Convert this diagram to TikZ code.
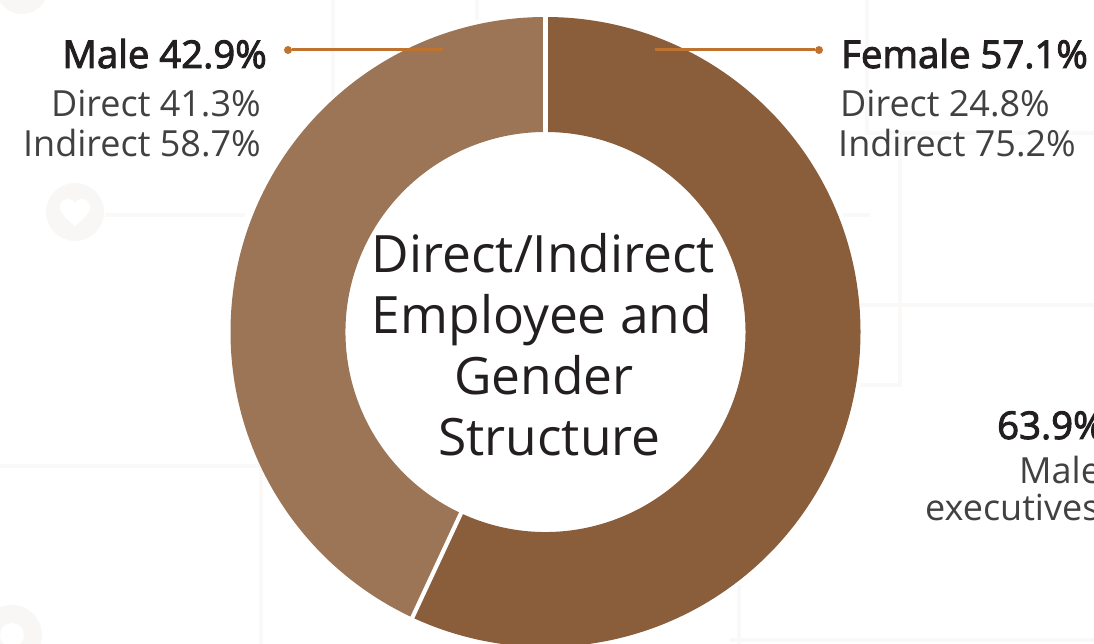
\documentclass[tikz,border=0pt]{standalone}
\usepackage{fontspec}
\usetikzlibrary{calc}
\setmainfont{Open Sans}
\newfontfamily\semib{Open Sans}[FakeBold=2.6]
\definecolor{malec}{HTML}{9C7556}
\definecolor{femalec}{HTML}{8A5D3B}
\definecolor{leader}{HTML}{C0732F}
\definecolor{dark}{HTML}{231F20}
\definecolor{greytxt}{HTML}{414042}
\definecolor{wm}{HTML}{F8F7F5}
\definecolor{wmfaint}{HTML}{FAF9F8}
\tikzset{
  x=1pt,y=1pt,
  head/.style={inner sep=0,text=dark,font=\semib\fontsize{38.3}{38.3}\selectfont},
  sub/.style={inner sep=0,text=greytxt,font=\fontsize{36}{36}\selectfont},
  title/.style={inner sep=0,text=dark,font=\fontsize{51.5}{51.5}\selectfont,anchor=base},
  dotn/.style={circle,fill=leader,inner sep=0,minimum size=8pt},
  leaderline/.style={leader,line width=3pt},
  wmline/.style={wmfaint,line width=4pt},
  wmdisc/.style={fill=wm},
  gapline/.style={white,line width=4.2pt}
}
\begin{document}
\begin{tikzpicture}
\useasboundingbox (0,0) rectangle (1094,644);
% faint background pattern
\draw[wmline] (333,644) -- (333,546);
\draw[wmline] (477,644) -- (477,624);
\draw[wmline] (105,429) -- (245,429);
\draw[wmline] (867,644) -- (867,511) -- (1094,511);
\draw[wmline] (900,511) -- (900,259) -- (860,259);
\draw[wmline] (860,339) -- (1094,339);
\draw[wmline] (843,429) -- (870,429);
\draw[wmline] (0,178) -- (261,178) -- (261,0);
\draw[wmline] (739,59) -- (739,0);
\draw[wmline] (730,4) -- (1094,4);
\fill[wmdisc] (75,432) circle (29);
\fill[white] (75,418) .. controls (60,430) and (58,436) .. (61,441) .. controls (65,447) and (72,446) .. (75,441) .. controls (78,446) and (85,447) .. (89,441) .. controls (92,436) and (90,430) .. (75,418) -- cycle;
\fill[wmdisc] (22,656) circle (26);
\fill[wmdisc] (12,9) circle (30);
\fill[white] (12,9) circle (12);
% ring
\coordinate (c) at (545.5,312);
\fill[malec] ($(c)+(90:315)$) arc (90:245:315) -- ($(c)+(245:200)$) arc (245:90:200) -- cycle;
\fill[femalec] ($(c)+(90:315)$) arc (90:-115:315) -- ($(c)+(245:200)$) arc (-115:90:200) -- cycle;
\draw[gapline] ($(c)+(90:195)$) -- ($(c)+(90:320)$);
\draw[gapline] ($(c)+(245:195)$) -- ($(c)+(245:320)$);
% leaders
\node[dotn] (dm) at (288,594) {};
\coordinate (em) at (443,594);
\draw[leaderline] (dm) -- (em);
\node[dotn] (df) at (819,594) {};
\coordinate (ef) at (654.5,594);
\draw[leaderline] (df) -- (ef);
% labels
\node[head,anchor=base east] (mh) at (267,576) {Male 42.9\%};
\node[sub,anchor=base east] (md) at (261,527) {Direct 41.3\%};
\node[sub,anchor=base east] (mi) at (261,487) {Indirect 58.7\%};
\node[head,anchor=base west] (fh) at (841,576) {Female 57.1\%};
\node[sub,anchor=base west] (fd) at (840,527) {Direct 24.8\%};
\node[sub,anchor=base west] (fi) at (838,487) {Indirect 75.2\%};
% centre
\node[title] (t1) at (543.5,371) {Direct/Indirect};
\node[title] (t2) at (542,310) {Employee and};
\node[title] (t3) at (544,249) {Gender};
\node[title] (t4) at (549.5,188) {Structure};
% right
\node[head,anchor=base west] (r1) at (997,205) {63.9\%};
\node[sub,anchor=base west] (r2) at (1019,160) {Male};
\node[sub,anchor=base west] (r3) at (925,123) {executives};
\end{tikzpicture}
\end{document}
